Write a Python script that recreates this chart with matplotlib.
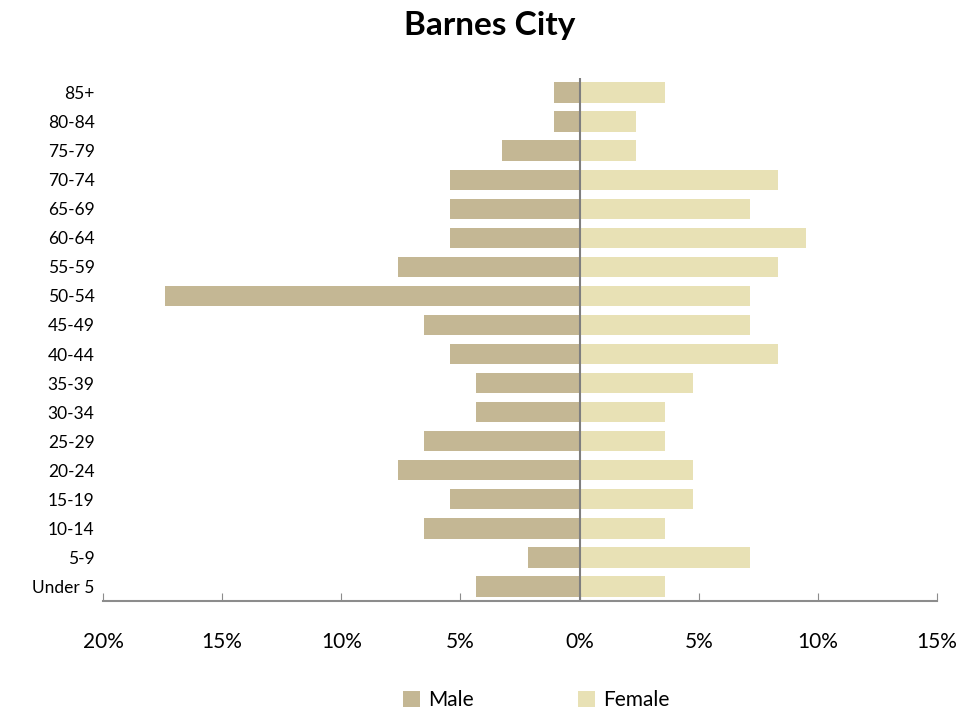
import numpy as np
import matplotlib.pyplot as plt
from matplotlib.ticker import FuncFormatter

plt.rcParams['font.family'] = ['Lato', 'DejaVu Sans']

ages = ['Under 5', '5-9', '10-14', '15-19', '20-24', '25-29', '30-34', '35-39',
        '40-44', '45-49', '50-54', '55-59', '60-64', '65-69', '70-74', '75-79',
        '80-84', '85+']
# percent of each sex
male = [4.35, 2.17, 6.52, 5.43, 7.61, 6.52, 4.35, 4.35, 5.43, 6.52, 17.39,
        7.61, 5.43, 5.43, 5.43, 3.26, 1.09, 1.09]
female = [3.57, 7.14, 3.57, 4.76, 4.76, 3.57, 3.57, 4.76, 8.33, 7.14, 7.14,
          8.33, 9.52, 7.14, 8.33, 2.38, 2.38, 3.57]

male_col = '#c4b794'
female_col = '#e8e1b5'

fig = plt.figure(figsize=(9.79, 7.13), dpi=100)
ax = fig.add_axes([103/979, 1 - 601/713, (937-103)/979, (601-78)/713])

y = np.arange(len(ages))
ax.barh(y, -np.array(male), height=0.7, color=male_col, label='Male')
ax.barh(y, female, height=0.7, color=female_col, label='Female')
ax.axvline(0, color='#7f7f7f', lw=1.5)

ax.set_xlim(-20, 15)
ax.set_ylim(-0.5, len(ages) - 0.5)
ax.set_xticks(np.arange(-20, 16, 5))
ax.xaxis.set_major_formatter(FuncFormatter(lambda v, p: '%d%%' % abs(v)))
ax.set_yticks(y)
ax.set_yticklabels(ages)
ax.tick_params(axis='y', length=0, labelsize=12.5, pad=6)
ax.tick_params(axis='x', direction='in', length=6, color='#8c8c8c',
               labelsize=15, pad=22)
for s in ['top', 'right', 'left']:
    ax.spines[s].set_visible(False)
ax.spines['bottom'].set_color('#8c8c8c')
ax.spines['bottom'].set_linewidth(1.5)

fig.suptitle('Barnes City', fontsize=24, fontweight='bold', y=0.985)
fig.legend(loc='lower center', bbox_to_anchor=(0.548, -0.022), ncol=2,
           frameon=False, fontsize=15, handlelength=0.8, handleheight=0.8,
           columnspacing=5, handletextpad=0.4)

fig.savefig('out.png', dpi=100)
